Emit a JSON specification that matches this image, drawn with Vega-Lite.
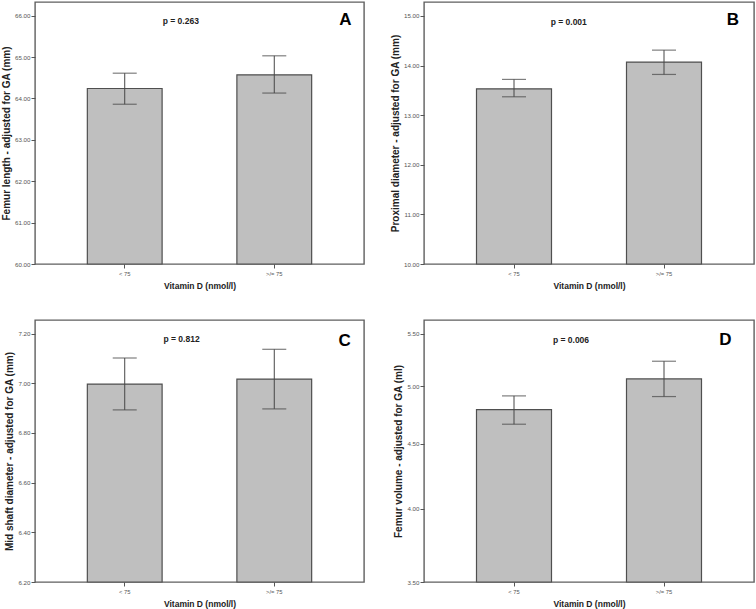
{
  "$schema": "https://vega.github.io/schema/vega-lite/v6.json",
  "background": "white",
  "padding": {"left": 0, "top": 1, "right": 0, "bottom": 0},
  "datasets": {
    "A": [
      {"group": "< 75", "mean": 64.24, "lo": 63.86, "hi": 64.61},
      {"group": ">/= 75", "mean": 64.57, "lo": 64.13, "hi": 65.03}
    ],
    "B": [
      {"group": "< 75", "mean": 13.53, "lo": 13.37, "hi": 13.72},
      {"group": ">/= 75", "mean": 14.07, "lo": 13.82, "hi": 14.31}
    ],
    "C": [
      {"group": "< 75", "mean": 6.997, "lo": 6.893, "hi": 7.102},
      {"group": ">/= 75", "mean": 7.017, "lo": 6.897, "hi": 7.137}
    ],
    "D": [
      {"group": "< 75", "mean": 4.79, "lo": 4.665, "hi": 4.912},
      {"group": ">/= 75", "mean": 5.066, "lo": 4.906, "hi": 5.232}
    ],
    "LA": [{"p": "p = 0.263", "letter": "A"}],
    "LB": [{"p": "p = 0.001", "letter": "B"}],
    "LC": [{"p": "p = 0.812", "letter": "C"}],
    "LD": [{"p": "p = 0.006", "letter": "D"}]
  },
  "columns": 2,
  "bounds": "flush",
  "align": "each",
  "spacing": {"row": 56, "column": 60},
  "concat": [
    {
      "width": 329, "height": 262,
      "layer": [
        {
          "data": {"name": "A"},
          "mark": {"type": "bar", "fill": "#bfbfbf", "stroke": "#4f4f4f", "strokeWidth": 1.2},
          "encoding": {
            "x": {"field": "group", "type": "nominal", "sort": null, "scale": {"domain": ["< 75", ">/= 75"], "paddingInner": 0.5, "paddingOuter": 0.35}, "axis": {"title": "Vitamin D (nmol/l)"}},
            "y": {"field": "mean", "type": "quantitative", "scale": {"domain": [60, 66.33], "nice": false, "zero": false}, "axis": {"title": "Femur length - adjusted for GA (mm)", "values": [60, 61, 62, 63, 64, 65, 66], "format": ".2f"}},
            "y2": {"datum": 60}
          }
        },
        {
          "data": {"name": "A"},
          "mark": {"type": "rule", "color": "#474747", "strokeWidth": 1},
          "encoding": {"x": {"field": "group", "type": "nominal", "sort": null}, "y": {"field": "lo", "type": "quantitative"}, "y2": {"field": "hi"}}
        },
        {
          "data": {"name": "A"},
          "mark": {"type": "tick", "color": "#474747", "size": 24, "thickness": 1.2},
          "encoding": {"x": {"field": "group", "type": "nominal", "sort": null}, "y": {"field": "lo", "type": "quantitative"}}
        },
        {
          "data": {"name": "A"},
          "mark": {"type": "tick", "color": "#474747", "size": 24, "thickness": 1.2},
          "encoding": {"x": {"field": "group", "type": "nominal", "sort": null}, "y": {"field": "hi", "type": "quantitative"}}
        },
        {
          "data": {"name": "LA"},
          "mark": {"type": "text", "fontSize": 8.5, "fontWeight": "bold", "color": "#222", "align": "center", "baseline": "middle"},
          "encoding": {"x": {"datum": "< 75", "type": "nominal", "bandPosition": 1.25}, "y": {"datum": 65.86, "type": "quantitative"}, "text": {"field": "p"}}
        },
        {
          "data": {"name": "LA"},
          "mark": {"type": "text", "fontSize": 17, "fontWeight": "bold", "color": "#000", "align": "center", "baseline": "middle"},
          "encoding": {"x": {"datum": ">/= 75", "type": "nominal", "bandPosition": 1.45}, "y": {"datum": 65.9, "type": "quantitative"}, "text": {"field": "letter"}}
        }
      ]
    },
    {
      "width": 330, "height": 262,
      "layer": [
        {
          "data": {"name": "B"},
          "mark": {"type": "bar", "fill": "#bfbfbf", "stroke": "#4f4f4f", "strokeWidth": 1.2},
          "encoding": {
            "x": {"field": "group", "type": "nominal", "sort": null, "scale": {"domain": ["< 75", ">/= 75"], "paddingInner": 0.5, "paddingOuter": 0.35}, "axis": {"title": "Vitamin D (nmol/l)"}},
            "y": {"field": "mean", "type": "quantitative", "scale": {"domain": [10, 15.28], "nice": false, "zero": false}, "axis": {"title": "Proximal diameter - adjusted for GA (mm)", "values": [10, 11, 12, 13, 14, 15], "format": ".2f"}},
            "y2": {"datum": 10}
          }
        },
        {
          "data": {"name": "B"},
          "mark": {"type": "rule", "color": "#474747", "strokeWidth": 1},
          "encoding": {"x": {"field": "group", "type": "nominal", "sort": null}, "y": {"field": "lo", "type": "quantitative"}, "y2": {"field": "hi"}}
        },
        {
          "data": {"name": "B"},
          "mark": {"type": "tick", "color": "#474747", "size": 24, "thickness": 1.2},
          "encoding": {"x": {"field": "group", "type": "nominal", "sort": null}, "y": {"field": "lo", "type": "quantitative"}}
        },
        {
          "data": {"name": "B"},
          "mark": {"type": "tick", "color": "#474747", "size": 24, "thickness": 1.2},
          "encoding": {"x": {"field": "group", "type": "nominal", "sort": null}, "y": {"field": "hi", "type": "quantitative"}}
        },
        {
          "data": {"name": "LB"},
          "mark": {"type": "text", "fontSize": 8.5, "fontWeight": "bold", "color": "#222", "align": "center", "baseline": "middle"},
          "encoding": {"x": {"datum": "< 75", "type": "nominal", "bandPosition": 1.23}, "y": {"datum": 14.87, "type": "quantitative"}, "text": {"field": "p"}}
        },
        {
          "data": {"name": "LB"},
          "mark": {"type": "text", "fontSize": 17, "fontWeight": "bold", "color": "#000", "align": "center", "baseline": "middle"},
          "encoding": {"x": {"datum": ">/= 75", "type": "nominal", "bandPosition": 1.42}, "y": {"datum": 14.92, "type": "quantitative"}, "text": {"field": "letter"}}
        }
      ]
    },
    {
      "width": 329, "height": 262,
      "layer": [
        {
          "data": {"name": "C"},
          "mark": {"type": "bar", "fill": "#bfbfbf", "stroke": "#4f4f4f", "strokeWidth": 1.2},
          "encoding": {
            "x": {"field": "group", "type": "nominal", "sort": null, "scale": {"domain": ["< 75", ">/= 75"], "paddingInner": 0.5, "paddingOuter": 0.35}, "axis": {"title": "Vitamin D (nmol/l)"}},
            "y": {"field": "mean", "type": "quantitative", "scale": {"domain": [6.2, 7.255], "nice": false, "zero": false}, "axis": {"title": "Mid shaft diameter - adjusted for GA (mm)", "values": [6.2, 6.4, 6.6, 6.8, 7.0, 7.2], "format": ".2f"}},
            "y2": {"datum": 6.2}
          }
        },
        {
          "data": {"name": "C"},
          "mark": {"type": "rule", "color": "#474747", "strokeWidth": 1},
          "encoding": {"x": {"field": "group", "type": "nominal", "sort": null}, "y": {"field": "lo", "type": "quantitative"}, "y2": {"field": "hi"}}
        },
        {
          "data": {"name": "C"},
          "mark": {"type": "tick", "color": "#474747", "size": 24, "thickness": 1.2},
          "encoding": {"x": {"field": "group", "type": "nominal", "sort": null}, "y": {"field": "lo", "type": "quantitative"}}
        },
        {
          "data": {"name": "C"},
          "mark": {"type": "tick", "color": "#474747", "size": 24, "thickness": 1.2},
          "encoding": {"x": {"field": "group", "type": "nominal", "sort": null}, "y": {"field": "hi", "type": "quantitative"}}
        },
        {
          "data": {"name": "LC"},
          "mark": {"type": "text", "fontSize": 8.5, "fontWeight": "bold", "color": "#222", "align": "center", "baseline": "middle"},
          "encoding": {"x": {"datum": "< 75", "type": "nominal", "bandPosition": 1.26}, "y": {"datum": 7.178, "type": "quantitative"}, "text": {"field": "p"}}
        },
        {
          "data": {"name": "LC"},
          "mark": {"type": "text", "fontSize": 17, "fontWeight": "bold", "color": "#000", "align": "center", "baseline": "middle"},
          "encoding": {"x": {"datum": ">/= 75", "type": "nominal", "bandPosition": 1.44}, "y": {"datum": 7.169, "type": "quantitative"}, "text": {"field": "letter"}}
        }
      ]
    },
    {
      "width": 330, "height": 262,
      "layer": [
        {
          "data": {"name": "D"},
          "mark": {"type": "bar", "fill": "#bfbfbf", "stroke": "#4f4f4f", "strokeWidth": 1.2},
          "encoding": {
            "x": {"field": "group", "type": "nominal", "sort": null, "scale": {"domain": ["< 75", ">/= 75"], "paddingInner": 0.5, "paddingOuter": 0.35}, "axis": {"title": "Vitamin D (nmol/l)"}},
            "y": {"field": "mean", "type": "quantitative", "scale": {"type": "log", "domain": [3.5, 5.64], "nice": false}, "axis": {"title": "Femur volume - adjusted for GA (ml)", "values": [3.5, 4.0, 4.5, 5.0, 5.5], "format": ".2f"}},
            "y2": {"datum": 3.5}
          }
        },
        {
          "data": {"name": "D"},
          "mark": {"type": "rule", "color": "#474747", "strokeWidth": 1},
          "encoding": {"x": {"field": "group", "type": "nominal", "sort": null}, "y": {"field": "lo", "type": "quantitative"}, "y2": {"field": "hi"}}
        },
        {
          "data": {"name": "D"},
          "mark": {"type": "tick", "color": "#474747", "size": 24, "thickness": 1.2},
          "encoding": {"x": {"field": "group", "type": "nominal", "sort": null}, "y": {"field": "lo", "type": "quantitative"}}
        },
        {
          "data": {"name": "D"},
          "mark": {"type": "tick", "color": "#474747", "size": 24, "thickness": 1.2},
          "encoding": {"x": {"field": "group", "type": "nominal", "sort": null}, "y": {"field": "hi", "type": "quantitative"}}
        },
        {
          "data": {"name": "LD"},
          "mark": {"type": "text", "fontSize": 8.5, "fontWeight": "bold", "color": "#222", "align": "center", "baseline": "middle"},
          "encoding": {"x": {"datum": "< 75", "type": "nominal", "bandPosition": 1.26}, "y": {"datum": 5.44, "type": "quantitative"}, "text": {"field": "p"}}
        },
        {
          "data": {"name": "LD"},
          "mark": {"type": "text", "fontSize": 17, "fontWeight": "bold", "color": "#000", "align": "center", "baseline": "middle"},
          "encoding": {"x": {"datum": ">/= 75", "type": "nominal", "bandPosition": 1.32}, "y": {"datum": 5.44, "type": "quantitative"}, "text": {"field": "letter"}}
        }
      ]
    }
  ],
  "config": {
    "font": "Liberation Sans",
    "view": {"stroke": "#5f5f5f", "strokeWidth": 1.4},
    "axis": {
      "grid": false,
      "domain": false,
      "tickColor": "#555",
      "tickSize": 4,
      "tickWidth": 1,
      "labelColor": "#555",
      "labelFontSize": 6.2,
      "labelPadding": 1,
      "titleFontSize": 8.5,
      "titleFontWeight": "bold",
      "titleColor": "#222",
      "titlePadding": 5
    },
    "axisY": {"titleFontSize": 10, "titlePadding": 3},
    "axisX": {"labelAngle": 0, "labelFontSize": 5.8, "labelPadding": 2, "titlePadding": 6}
  }
}
